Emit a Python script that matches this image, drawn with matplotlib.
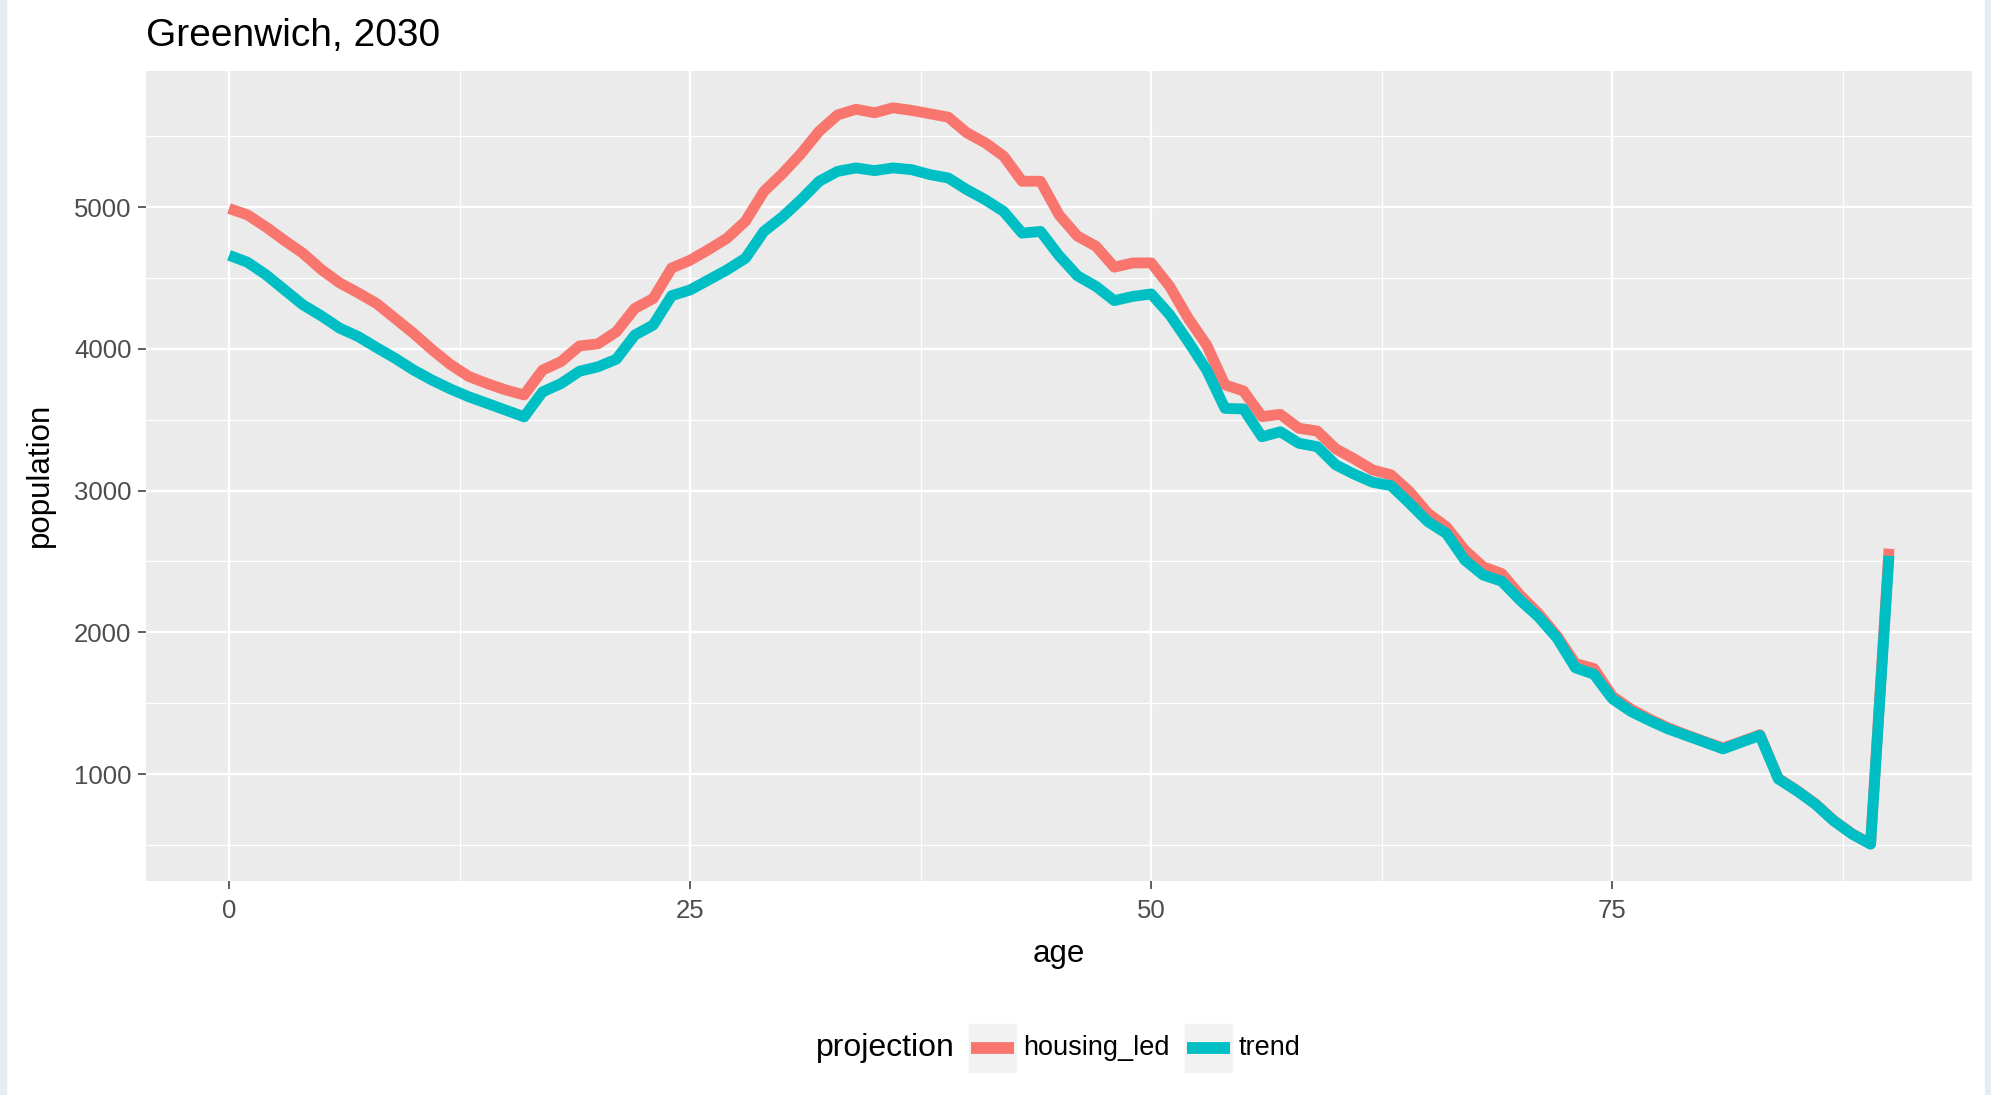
import matplotlib
matplotlib.use('Agg')
import matplotlib.pyplot as plt
from matplotlib.patches import Rectangle
from matplotlib.lines import Line2D
from matplotlib.ticker import MultipleLocator

plt.rcParams['font.family'] = ['Liberation Sans', 'DejaVu Sans']

# data
ages = list(range(0, 91))
housing_led = [4990, 4945, 4860, 4765, 4675, 4560, 4465, 4395, 4320, 4215,
               4110, 3995, 3890, 3805, 3755, 3710, 3675, 3850, 3910, 4020,
               4035, 4120, 4285, 4355, 4570, 4625, 4700, 4780, 4900, 5110,
               5235, 5375, 5535, 5650, 5690, 5665, 5700, 5682, 5658, 5634,
               5524, 5453, 5359, 5182, 5182, 4945, 4795, 4724, 4576, 4606,
               4606, 4441, 4217, 4028, 3746, 3703, 3522, 3538, 3440, 3420,
               3295, 3224, 3146, 3111, 2993, 2840, 2745, 2580, 2462, 2415,
               2262, 2132, 1975, 1780, 1745, 1550, 1460, 1390, 1328, 1278,
               1230, 1185, 1230, 1278, 970, 886, 792, 674, 580, 508, 2590]
trend = [4660, 4611, 4523, 4417, 4311, 4233, 4146, 4087, 4009, 3934,
         3851, 3780, 3717, 3662, 3615, 3568, 3520, 3696, 3755, 3842,
         3873, 3927, 4097, 4168, 4375, 4415, 4486, 4557, 4639, 4828,
         4930, 5050, 5182, 5252, 5276, 5257, 5276, 5264, 5229, 5205,
         5123, 5052, 4969, 4816, 4828, 4658, 4515, 4441, 4340, 4370,
         4387, 4241, 4052, 3852, 3580, 3576, 3380, 3415, 3334, 3310,
         3182, 3116, 3059, 3035, 2911, 2781, 2698, 2510, 2404, 2361,
         2227, 2109, 1960, 1750, 1705, 1532, 1443, 1379, 1320, 1273,
         1226, 1178, 1226, 1273, 966, 883, 789, 671, 577, 506, 2540]
series_names = ['housing_led', 'trend']
series_colors = ['#F8766D', '#00BFC4']

W, H = 1991, 1095
fig = plt.figure(figsize=(W / 100, H / 100), dpi=100)
fig.patch.set_facecolor('white')

# screenshot side strips
fig.patches.append(Rectangle((0, 0), 6 / W, 1, transform=fig.transFigure,
                             color='#e6ecf4', zorder=0))
fig.patches.append(Rectangle((1 - 6 / W, 0), 6 / W, 1, transform=fig.transFigure,
                             color='#e6ecf4', zorder=0))

ax = fig.add_axes([146 / W, 1 - 881 / H, (1972 - 146) / W, (881 - 71) / H])
ax.set_facecolor('#EBEBEB')
for s in ax.spines.values():
    s.set_visible(False)

for y, name, col in zip([housing_led, trend], series_names, series_colors):
    ax.plot(ages, y, color=col, lw=7.8, solid_capstyle='butt',
            solid_joinstyle='round', label=name, zorder=3)

ax.margins(x=0.05, y=0.05)
ax.xaxis.set_major_locator(MultipleLocator(25))
ax.xaxis.set_minor_locator(MultipleLocator(12.5))
ax.yaxis.set_major_locator(MultipleLocator(1000))
ax.yaxis.set_minor_locator(MultipleLocator(500))
ax.grid(which='major', color='white', lw=1.7)
ax.grid(which='minor', color='white', lw=0.9)
ax.set_axisbelow(True)
ax.tick_params(which='major', length=5.5, width=1.1, color='#333333',
               labelsize=18.5, labelcolor='#4D4D4D', pad=5)
ax.tick_params(axis='x', which='major', pad=7.5)
ax.tick_params(which='minor', length=0)
ax.set_yticks([1000, 2000, 3000, 4000, 5000])

fig.text(146 / W, 1 - 46 / H, 'Greenwich, 2030', fontsize=28, ha='left',
         va='baseline', color='black')
fig.text(1059 / W, 1 - 954 / H, 'age', fontsize=22.5, ha='center',
         va='center', color='black')
fig.text(40 / W, 1 - 475 / H, 'population', fontsize=22.5, ha='center',
         va='center', rotation=90, color='black')

# legend at the bottom, drawn by hand (ggplot style)
ly = 1 - 1048 / H
fig.text(816 / W, ly, 'projection', fontsize=23, ha='left', va='center')
key_x = [969, 1185]
text_x = [1023, 1239]
for kx, tx, name, col in zip(key_x, text_x, series_names, series_colors):
    fig.patches.append(Rectangle((kx / W, ly - 24 / H), 47 / W, 48 / H,
                                 transform=fig.transFigure, color='#F2F2F2'))
    fig.lines.append(Line2D([(kx + 2) / W, (kx + 45) / W], [ly, ly],
                            transform=fig.transFigure, color=col, lw=8.5,
                            solid_capstyle='butt'))
    fig.text(tx / W, ly, name, fontsize=19.5, ha='left', va='center')

fig.savefig('out.png', dpi=100)
